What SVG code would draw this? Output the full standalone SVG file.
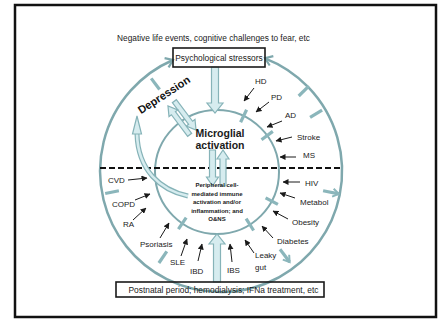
<svg xmlns="http://www.w3.org/2000/svg" width="443" height="322" viewBox="0 0 443 322">
<defs>
<style>
text{font-family:"Liberation Sans",Arial,sans-serif;fill:#1a1a1a}
.lbl{font-size:8px;fill:#1a1a1a}
.ring{fill:none;stroke:#7fa8ad}
.bar{stroke:#8bb6bb;stroke-width:3.2;stroke-linecap:butt;fill:none}
.hol{fill:#d6ecef;stroke:#86b3b8;stroke-width:1.2;stroke-linejoin:miter}
.la{stroke:#1a1a1a;stroke-width:1;fill:none;marker-end:url(#ah)}
.box{fill:none;stroke:#1a1a1a;stroke-width:1.6}
</style>
<marker id="ah" markerUnits="userSpaceOnUse" markerWidth="6" markerHeight="6" refX="5.5" refY="3" orient="auto">
<path d="M0,0 L6,3 L0,6 z" fill="#1a1a1a"/>
</marker>
<marker id="chev" markerUnits="userSpaceOnUse" markerWidth="12" markerHeight="12" refX="9" refY="6" orient="auto-start-reverse">
<path d="M2,1 L9,6 L2,11" fill="none" stroke="#7fa8ad" stroke-width="2.2"/>
</marker>
<marker id="tah" markerUnits="userSpaceOnUse" markerWidth="10" markerHeight="10" refX="7" refY="5" orient="auto">
<path d="M1,1 L7,5 L1,9" fill="none" stroke="#8bb6bb" stroke-width="2"/>
</marker>
</defs>
<rect x="0" y="0" width="443" height="322" fill="#fff"/>
<rect x="15" y="5" width="421" height="312" fill="none" stroke="#111" stroke-width="2.5"/>

<g id="connectors">
<path class="ring" stroke-width="2.5" d="M173,60 A121,121 0 1 0 265,58.3" marker-start="url(#chev)" marker-end="url(#chev)"/>
<circle class="ring" stroke-width="2" cx="217" cy="172" r="62"/>
<line x1="100" y1="168" x2="343" y2="168" stroke="#111" stroke-width="2" stroke-dasharray="6,3"/>
<line class="bar" x1="159.6" y1="89.5" x2="151.2" y2="78.4"/>
<line class="bar" x1="298.7" y1="96" x2="308.8" y2="86.2"/>
<line class="bar" x1="310.1" y1="117.4" x2="322.1" y2="110.2"/>
<line class="bar" x1="118.9" y1="190.8" x2="105.2" y2="193.5"/>
<line class="bar" x1="166.8" y1="251.4" x2="158.9" y2="263"/>
<line class="bar" x1="280" y1="249.3" x2="289.6" y2="262" marker-end="url(#tah)"/>
<line class="bar" x1="323.1" y1="190.8" x2="338.8" y2="193.9" marker-end="url(#tah)"/>
<line class="bar" x1="240.6" y1="122.3" x2="246.6" y2="109.7"/>
<line class="bar" x1="261.5" y1="139.7" x2="272.8" y2="131.4"/>
<line class="bar" x1="265.6" y1="197.8" x2="277.9" y2="204.4"/>
<line class="bar" x1="246.1" y1="218.6" x2="253.6" y2="230.5"/>
<line class="bar" x1="186.2" y1="217.6" x2="178.4" y2="229.2"/>
<polygon class="hol" points="211.5,67 218.5,67 218.5,103 223,103 215,113 207,103 211.5,103"/>
<polygon class="hol" points="213.5,282 220.5,282 220.5,244 225,244 217,234 209,244 213.5,244"/>
<polygon class="hol" points="209.5,150 215.5,150 215.5,177 218.5,177 212.5,186 206.5,177 209.5,177"/>
<polygon class="hol" points="220,186 226,186 226,159 229,159 223,150 217,159 220,159"/>
<g transform="translate(182,118) rotate(53)">
<polygon class="hol" points="-18,-6.5 9,-6.5 9,-9.5 18,-4 9,1.5 9,-1.5 -18,-1.5"/>
<polygon class="hol" points="18,1.5 -9,1.5 -9,-1.5 -18,4 -9,9.5 -9,6.5 18,6.5"/>
</g>
<path d="M188,196 C160,190 138,170 137,134" fill="none" stroke="#86b3b8" stroke-width="5"/>
<path d="M188,196 C160,190 138,170 137,134" fill="none" stroke="#d6ecef" stroke-width="2.6"/>
<polygon class="hol" points="137,116 141.5,134 132.5,134"/>
<line class="la" x1="254" y1="88" x2="244" y2="101"/>
<line class="la" x1="269" y1="102" x2="256" y2="112"/>
<line class="la" x1="282" y1="121" x2="267" y2="127"/>
<line class="la" x1="292" y1="137" x2="276" y2="141"/>
<line class="la" x1="296" y1="157" x2="280" y2="157"/>
<line class="la" x1="300" y1="182" x2="283" y2="182"/>
<line class="la" x1="295" y1="198" x2="280" y2="193"/>
<line class="la" x1="288" y1="219" x2="273" y2="211"/>
<line class="la" x1="273" y1="238" x2="262" y2="226"/>
<line class="la" x1="254" y1="253" x2="245" y2="240"/>
<line class="la" x1="232" y1="262" x2="230" y2="244"/>
<line class="la" x1="198" y1="261" x2="202" y2="244"/>
<line class="la" x1="181" y1="256" x2="187" y2="239"/>
<line class="la" x1="160" y1="238" x2="169" y2="223"/>
<line class="la" x1="133" y1="220" x2="146" y2="208"/>
<line class="la" x1="135" y1="200" x2="150" y2="194"/>
<line class="la" x1="128" y1="180" x2="147" y2="178"/>
</g>

<g id="top-text"><text x="213.5" y="41" font-size="8.3" text-anchor="middle">Negative life events, cognitive challenges to fear, etc</text></g>
<g id="psych"><rect class="box" x="173" y="48" width="92" height="19" fill="#fff"/><text x="219" y="61" font-size="8.4" text-anchor="middle">Psychological stressors</text></g>
<g id="postnatal"><rect class="box" x="116" y="282" width="208" height="15"/><text x="223.5" y="293" font-size="8.4" text-anchor="middle">Postnatal period; hemodialysis; IFNa treatment, etc</text></g>
<g id="depression"><text transform="translate(166,98) rotate(-33)" font-size="11" font-weight="bold" text-anchor="middle" style="fill:#111">Depression</text></g>
<g id="microglia"><text x="220" y="137" font-size="10.5" font-weight="bold" text-anchor="middle">Microglial</text><text x="220" y="148.5" font-size="10.5" font-weight="bold" text-anchor="middle">activation</text></g>
<g id="peripheral" font-size="6" font-weight="bold">
<text x="217" y="187" text-anchor="middle">Peripheral cell-</text>
<text x="217" y="195.5" text-anchor="middle">mediated immune</text>
<text x="217" y="204" text-anchor="middle">activation and/or</text>
<text x="217" y="212.5" text-anchor="middle">inflammation; and</text>
<text x="217" y="221" text-anchor="middle">O&amp;NS</text>
</g>
<g id="HD"><text class="lbl" x="255" y="84">HD</text></g>
<g id="PD"><text class="lbl" x="271" y="100">PD</text></g>
<g id="AD"><text class="lbl" x="285" y="118">AD</text></g>
<g id="Stroke"><text class="lbl" x="297" y="140">Stroke</text></g>
<g id="MS"><text class="lbl" x="303" y="158">MS</text></g>
<g id="HIV"><text class="lbl" x="305" y="186">HIV</text></g>
<g id="Metabol"><text class="lbl" x="300" y="205">Metabol</text></g>
<g id="Obesity"><text class="lbl" x="292" y="225">Obesity</text></g>
<g id="Diabetes"><text class="lbl" x="277" y="244">Diabetes</text></g>
<g id="Leaky"><text class="lbl" x="255" y="258">Leaky</text><text class="lbl" x="255" y="270">gut</text></g>
<g id="IBS"><text class="lbl" x="227" y="273">IBS</text></g>
<g id="IBD"><text class="lbl" x="190" y="274">IBD</text></g>
<g id="SLE"><text class="lbl" x="170" y="265">SLE</text></g>
<g id="Psoriasis"><text class="lbl" x="140" y="247">Psoriasis</text></g>
<g id="RA"><text class="lbl" x="123" y="227">RA</text></g>
<g id="COPD"><text class="lbl" x="112" y="207">COPD</text></g>
<g id="CVD"><text class="lbl" x="108" y="183">CVD</text></g>
</svg>
